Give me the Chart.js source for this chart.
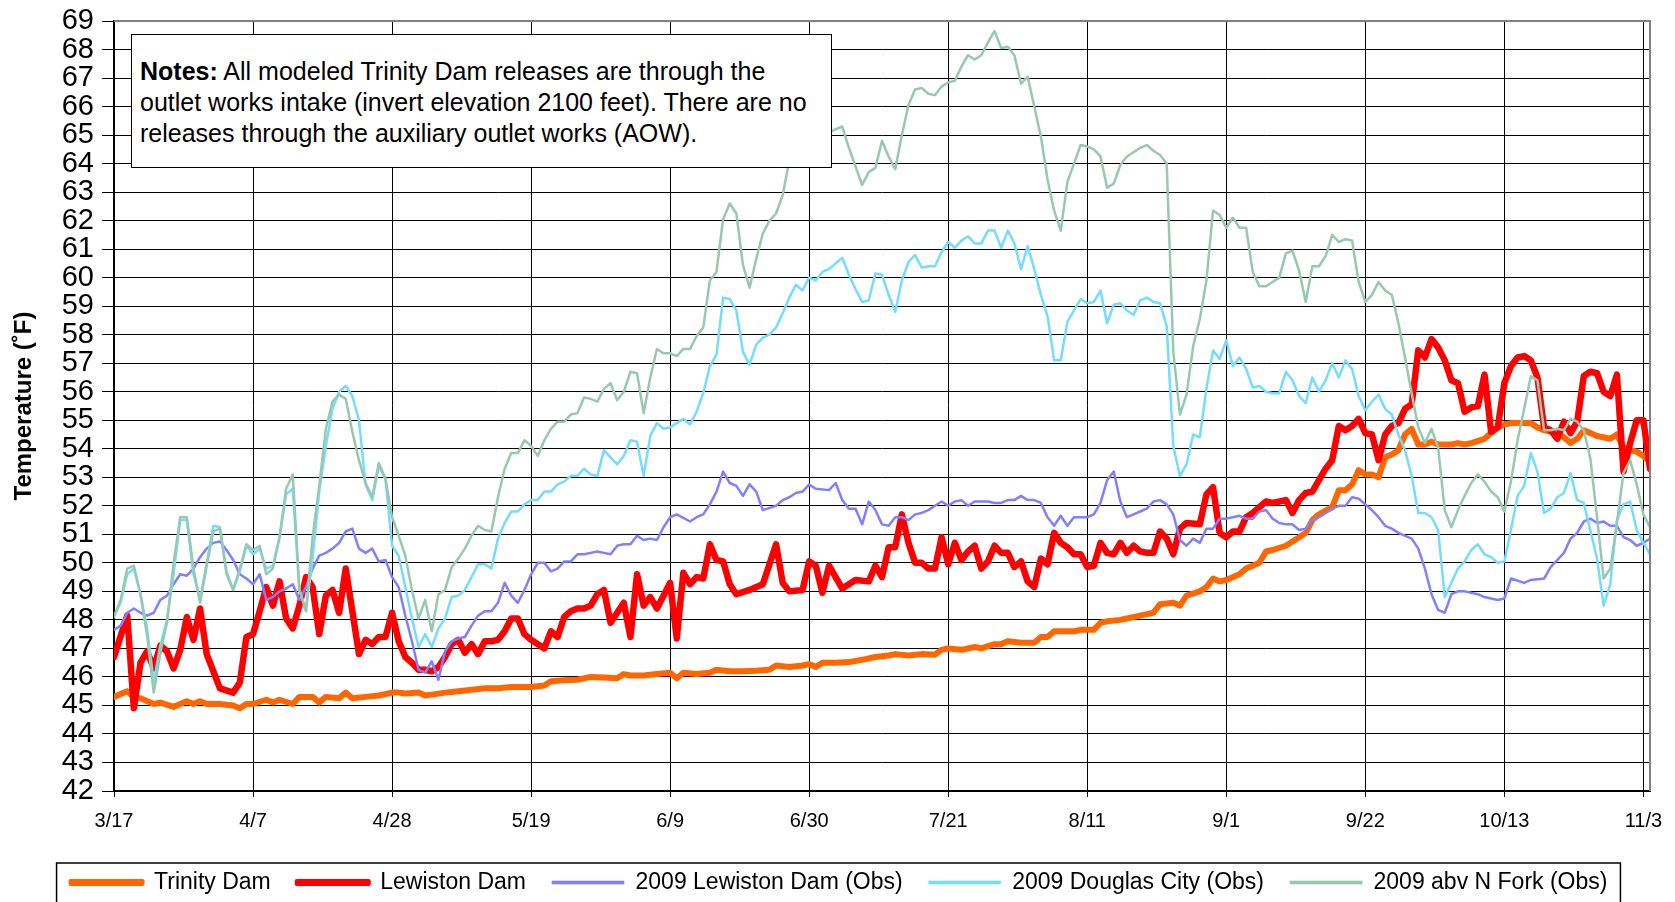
<!DOCTYPE html>
<html>
<head>
<meta charset="utf-8">
<script src="https://cdn.jsdelivr.net/npm/chart.js@4.4.1/dist/chart.umd.min.js"></script>
<style>
  html, body { margin: 0; padding: 0; background: #fff; }
  #wrap { position: relative; width: 1675px; height: 902px; overflow: hidden; }
  #notes {
    position: absolute; left: 131px; top: 34px; width: 701px; height: 134px;
    box-sizing: border-box; border: 1.5px solid #000; background: #fff;
    padding: 21px 0 0 8px; white-space: nowrap; color: #000;
    font: 25px "Liberation Sans", Arial, sans-serif; line-height: 31px;
  }
</style>
</head>
<body>
<div id="wrap">
  <canvas id="chart" width="1675" height="902"></canvas>
  <div id="notes"><b>Notes:</b> All modeled Trinity Dam releases are through the<br>outlet works intake (invert elevation 2100 feet). There are no<br>releases through the auxiliary outlet works (AOW).</div>
</div>
<script>
// x = days after 3/17
const tickDays = [0, 21, 42, 63, 84, 105, 126, 147, 168, 189, 210, 231];
const tickLabels = ['3/17', '4/7', '4/28', '5/19', '6/9', '6/30', '7/21', '8/11', '9/1', '9/22', '10/13', '11/3'];

const trinityDays = [0,2,3,4,6,7,9,10,11,12,13,14,16,18,19,20,21,23,24,25,27,28,30,31,32,34,35,36,38,40,
  42,43,44,46,47,48,50,52,54,56,58,60,61,63,65,66,68,70,72,74,76,77,78,80,82,84,85,86,88,90,
  91,93,95,97,99,100,102,104,105,106,107,109,111,113,115,117,118,120,122,124,125,126,128,130,131,133,134,135,137,139,
  140,141,142,144,145,146,148,149,150,152,153,155,156,157,158,160,161,162,164,165,166,167,168,170,171,172,173,174,175,177,
  178,179,180,181,182,184,185,186,187,188,189,190,191,192,193,194,195,196,197,198,199,200,202,203,204,205,207,208,209,210,
  211,212,214,215,216,217,218,219,220,221,222,223,224,226,227,228,229,230,231,232];
const trinityTemp = [45.3,45.5,45.3,45.25,45.05,45.1,44.95,45.05,45.15,45.05,45.15,45.05,45.05,45.0,44.9,45.05,45.05,45.2,45.1,45.2,45.05,45.3,45.3,45.1,45.3,45.25,45.45,45.25,45.3,45.35,
  45.45,45.45,45.42,45.45,45.35,45.38,45.45,45.5,45.55,45.6,45.6,45.65,45.65,45.65,45.7,45.85,45.88,45.9,46.0,45.98,45.95,46.1,46.05,46.05,46.1,46.15,45.95,46.15,46.1,46.15,
  46.25,46.2,46.2,46.22,46.25,46.4,46.35,46.4,46.45,46.35,46.5,46.5,46.52,46.6,46.7,46.75,46.8,46.75,46.8,46.78,46.95,47.0,46.95,47.05,47.0,47.15,47.15,47.25,47.2,47.2,
  47.4,47.4,47.6,47.6,47.6,47.65,47.65,47.9,47.95,48.0,48.05,48.15,48.2,48.25,48.55,48.6,48.5,48.85,49.0,49.15,49.45,49.35,49.4,49.6,49.8,49.9,50.0,50.4,50.45,50.6,
  50.75,50.9,51.05,51.5,51.7,51.95,52.55,52.55,52.75,53.25,53.1,53.1,53.0,53.7,53.8,53.95,54.5,54.7,54.15,54.15,54.25,54.15,54.15,54.2,54.15,54.2,54.35,54.55,54.75,54.85,
  54.9,54.9,54.9,54.75,54.65,54.6,54.55,54.4,54.2,54.35,54.65,54.55,54.45,54.35,54.5,54.05,53.95,53.9,53.75,53.55];

const lewistonDays = [0,2,3,4,5,6,7,8,9,10,11,12,13,14,15,16,18,19,20,21,22,23,24,25,26,27,28,29,30,31,
  32,33,34,35,36,37,38,39,40,41,42,43,44,45,46,47,48,49,50,51,52,53,54,55,56,57,58,59,60,61,
  62,63,64,65,66,67,68,69,70,71,72,73,74,75,76,77,78,79,80,81,82,83,84,85,86,87,88,89,90,91,
  92,93,94,96,98,100,101,102,104,105,106,107,108,109,110,112,114,115,116,117,118,119,120,121,122,123,124,125,126,127,
  128,129,130,131,132,133,134,135,136,137,138,139,140,141,142,143,144,145,146,147,148,149,150,151,152,153,154,155,156,157,
  158,159,160,161,162,164,165,166,167,168,169,170,171,172,174,175,177,178,179,180,181,182,183,184,185,186,187,188,189,190,
  191,192,193,194,195,196,197,198,199,200,201,202,203,204,205,206,207,208,209,210,211,212,213,214,215,216,217,218,219,220,
  221,222,223,224,225,226,227,228,229,230,231,232];
const lewistonTemp = [46.7,48.15,44.9,46.5,46.9,46.3,47.1,46.9,46.3,46.95,48.1,47.3,48.4,46.8,46.2,45.6,45.45,45.8,47.4,47.5,48.3,49.15,48.5,49.35,48.05,47.7,48.5,49.5,49.15,47.5,
  48.85,49.05,48.25,49.8,48.3,46.8,47.3,47.15,47.4,47.4,48.25,47.25,46.7,46.5,46.25,46.25,46.2,46.35,46.7,47.15,47.3,46.85,47.15,46.8,47.25,47.25,47.3,47.6,48.05,48.05,
  47.5,47.3,47.15,47.0,47.6,47.4,48.1,48.3,48.4,48.4,48.5,48.9,49.05,47.9,48.25,48.6,47.4,49.6,48.5,48.8,48.4,48.85,49.3,47.35,49.65,49.25,49.5,49.45,50.65,50.1,
  50.05,49.25,48.9,49.05,49.25,50.65,49.3,49.0,49.05,50.05,49.9,48.95,49.9,49.5,49.1,49.4,49.35,49.9,49.5,50.55,50.55,51.7,50.7,50.0,50.0,49.8,49.8,50.9,49.95,50.7,
  50.1,50.4,50.6,49.8,50.05,50.6,50.35,50.35,49.85,50.05,49.35,49.15,50.15,49.95,51.05,50.7,50.55,50.3,50.3,49.85,49.9,50.7,50.35,50.3,50.7,50.35,50.6,50.4,50.35,50.35,
  51.1,50.85,50.3,51.2,51.4,51.35,52.4,52.65,51.05,50.9,51.1,51.1,51.6,51.75,52.15,52.1,52.2,51.75,52.2,52.45,52.5,52.9,53.3,53.6,54.8,54.65,54.8,55.05,54.55,54.5,
  53.6,54.5,54.8,54.9,55.4,55.55,57.45,57.2,57.85,57.55,57.1,56.4,56.3,55.3,55.45,55.5,56.6,54.6,54.75,56.3,56.9,57.2,57.25,57.1,56.5,54.75,54.65,54.35,54.95,54.55,
  54.95,56.55,56.7,56.65,56.0,55.85,56.6,53.2,54.2,55.0,55.0,53.3];

const lewObsDays = [0,1,2,3,4,5,6,7,8,9,10,11,12,13,14,15,16,17,18,19,20,21,22,23,24,25,26,27,28,29,
  30,31,32,33,34,35,36,37,38,39,40,41,42,43,44,45,46,47,48,49,50,51,52,53,54,55,56,57,58,59,
  60,61,62,63,64,65,66,67,68,69,70,71,72,73,74,75,76,77,78,79,80,81,82,83,84,85,87,88,89,90,
  91,92,93,94,95,96,97,98,100,101,102,103,104,105,106,108,109,110,111,112,113,114,115,116,117,118,119,120,121,122,
  123,124,125,126,127,128,129,130,131,132,133,134,135,136,137,138,139,140,141,142,143,144,145,146,147,148,149,150,151,152,
  153,154,155,156,157,158,159,160,161,162,163,164,165,166,167,168,169,170,171,172,173,174,175,176,177,178,179,180,181,182,
  183,184,185,186,187,188,189,190,191,192,193,194,196,197,198,199,200,201,202,203,204,206,207,209,210,211,213,214,216,217,
  218,219,220,221,222,223,224,225,226,227,228,229,230,231,232];
const lewObsTemp = [47.65,47.8,48.25,48.4,48.25,48.15,48.25,48.7,48.85,49.25,49.6,49.55,49.8,50.2,50.5,50.7,50.75,50.45,50.1,49.6,49.45,49.25,49.6,48.7,48.8,49.0,49.1,49.25,48.7,49.15,
  49.8,50.25,50.35,50.5,50.7,51.1,51.2,50.5,50.35,50.5,50.05,50.1,49.5,49.15,48.15,47.25,46.25,46.15,46.55,45.9,46.9,47.25,47.35,47.4,47.8,48.15,48.3,48.3,48.6,49.3,
  48.85,48.6,49.05,49.6,50.0,50.0,49.7,49.8,50.05,50.05,50.3,50.3,50.35,50.4,50.35,50.3,50.6,50.65,50.65,50.95,50.8,50.85,50.8,51.25,51.6,51.7,51.45,51.6,51.7,52.05,
  52.5,53.2,52.8,52.7,52.35,52.75,52.5,51.85,52.0,52.2,52.3,52.45,52.5,52.75,52.6,52.55,52.8,52.2,51.9,51.9,51.35,52.15,51.85,51.35,51.3,51.6,51.6,51.5,51.7,51.75,
  51.85,52.0,52.15,52.0,52.15,52.2,52.0,52.15,52.15,52.15,52.1,52.1,52.2,52.2,52.35,52.2,52.2,52.1,51.6,51.3,51.65,51.3,51.6,51.6,51.6,51.7,52.1,52.9,53.2,52.15,
  51.6,51.7,51.8,51.9,52.15,52.2,52.05,51.7,50.8,50.6,50.85,50.7,51.2,51.2,51.55,51.55,51.6,51.65,51.55,51.55,51.8,51.85,51.55,51.4,51.35,51.35,51.15,51.2,51.5,51.6,
  51.75,51.9,52.0,52.0,52.3,52.25,52.05,51.85,51.6,51.3,51.2,51.05,50.85,50.5,49.8,48.9,48.35,48.25,48.9,49.0,49.0,48.9,48.8,48.7,48.75,49.45,49.3,49.4,49.45,49.85,
  50.1,50.35,50.85,51.05,51.45,51.55,51.4,51.45,51.3,51.3,50.9,50.8,50.6,50.7,50.85];

const douglasDays = [0,1,2,3,4,5,6,7,8,9,10,11,12,13,14,15,16,17,18,19,20,21,22,23,24,25,26,27,28,29,
  30,31,32,33,34,35,36,37,38,39,40,41,42,43,44,45,46,47,48,49,50,51,52,53,54,55,56,57,58,59,
  60,61,62,63,64,65,66,67,68,69,70,71,72,73,74,75,76,77,78,79,80,81,82,83,84,85,86,87,88,89,
  90,91,92,93,94,95,96,97,98,99,100,101,102,103,104,105,106,107,108,109,110,111,112,113,114,115,116,117,118,119,
  120,121,122,123,124,125,126,127,128,129,130,131,132,133,134,135,136,137,138,139,140,141,142,143,144,145,146,147,148,149,
  150,151,152,153,154,155,156,157,158,159,160,161,162,163,164,165,166,167,168,169,170,171,172,173,174,175,176,177,178,179,
  180,181,182,183,184,185,186,187,188,189,190,191,192,193,194,195,196,197,198,199,200,201,202,203,204,205,206,207,208,209,
  210,211,212,213,214,215,216,217,218,219,220,221,222,224,225,226,227,228,229,230,231,232];
const douglasTemp = [48.15,48.6,49.6,49.8,48.9,47.7,45.8,47.1,48.0,49.6,51.5,51.5,49.6,48.7,50.0,51.3,51.25,49.7,49.05,49.7,50.6,50.3,50.5,49.8,49.9,50.9,52.4,52.6,49.05,48.35,
  50.15,52.5,54.1,55.4,56.0,56.2,55.85,55.0,52.75,52.2,53.4,52.95,50.6,50.25,49.15,48.05,47.05,47.5,47.05,47.7,48.05,48.8,48.85,49.05,49.5,49.95,49.95,49.8,50.85,51.4,
  51.8,51.8,52.05,52.2,52.2,52.5,52.5,52.75,52.85,53.05,53.05,53.3,53.1,53.05,53.95,53.7,53.45,53.75,54.3,54.25,53.05,54.45,54.9,54.7,54.75,54.9,55.05,54.85,55.3,55.95,
  56.9,57.3,59.3,59.25,58.85,57.4,56.95,57.65,57.9,58.0,58.25,58.75,59.3,59.75,59.55,60.0,59.9,60.2,60.3,60.5,60.7,60.1,59.6,59.15,59.2,60.15,60.1,59.4,58.8,59.9,
  60.55,60.8,60.35,60.4,60.4,60.9,61.25,61.05,61.3,61.45,61.2,61.2,61.65,61.65,61.05,61.65,61.2,60.3,61.1,60.3,59.4,58.65,57.1,57.1,58.45,58.85,59.25,59.1,59.15,59.55,
  58.4,59.05,59.1,58.85,58.7,59.2,59.3,59.15,59.1,58.3,54.1,53.05,53.45,54.5,54.4,56.1,57.45,57.15,57.8,56.9,57.2,56.8,56.15,56.2,56.0,55.95,55.95,56.7,56.4,55.85,
  55.6,56.5,56.0,56.4,57.0,56.5,57.1,56.8,55.85,55.35,55.65,55.9,55.4,55.2,54.5,53.95,53.05,51.75,51.75,51.6,51.15,48.8,49.3,49.8,50.05,50.45,50.65,50.3,50.2,50.0,
  50.05,51.15,52.35,52.7,53.85,53.2,51.75,51.9,52.3,52.45,53.15,52.2,52.1,50.15,48.5,49.25,51.5,52.05,52.15,51.15,50.7,50.3];

const nForkDays = [0,1,2,3,4,5,6,7,8,9,10,11,12,13,14,15,16,17,18,19,20,21,22,23,24,25,26,27,28,29,
  30,31,32,33,34,35,36,37,38,39,40,41,42,43,44,45,46,47,48,49,50,51,52,53,54,55,56,57,58,59,
  60,61,62,63,64,65,66,67,68,69,70,71,72,73,74,75,76,77,78,79,80,81,82,83,84,85,86,87,88,89,
  90,91,92,93,94,95,96,97,98,99,100,101,102,103,104,105,106,107,108,110,111,112,113,114,115,116,117,118,119,120,
  121,122,123,124,125,126,127,128,129,130,131,132,133,134,135,136,137,138,139,140,141,142,143,144,145,146,147,148,149,150,
  151,152,153,154,155,156,157,158,159,160,161,162,163,164,165,166,167,168,169,170,171,172,173,174,175,176,177,178,179,180,
  181,182,183,184,185,186,187,188,189,190,191,192,193,194,195,196,197,198,199,200,201,202,203,204,205,206,207,208,209,210,
  211,212,213,214,215,216,217,218,219,220,221,222,223,224,225,226,227,228,229,230,231,232];
const nForkTemp = [48.1,48.7,49.8,49.9,48.9,47.45,45.45,46.85,47.9,50.0,51.6,51.6,49.8,48.6,49.9,51.1,51.2,49.6,49.05,49.8,50.65,50.45,50.6,49.6,49.8,50.9,52.6,53.1,49.05,48.3,
  50.9,52.7,54.7,55.65,55.9,55.75,54.6,53.6,52.8,52.3,53.5,52.95,51.6,50.95,50.25,49.05,48.05,48.7,47.6,48.9,49.05,49.85,50.15,50.5,50.95,51.3,51.15,51.1,52.3,53.3,
  53.85,53.85,54.3,54.1,53.75,54.3,54.7,54.95,54.95,55.2,55.25,55.8,55.75,55.65,56.1,56.3,55.7,56.0,56.7,56.65,55.25,56.5,57.5,57.35,57.35,57.25,57.5,57.5,57.95,58.25,
  59.9,60.2,62.05,62.6,62.25,60.45,59.65,60.65,61.55,62.0,62.25,62.9,64.1,64.55,64.9,65.2,65.4,65.1,65.1,65.3,64.55,63.9,63.25,63.7,63.85,64.8,64.25,63.8,65.0,66.05,
  66.6,66.65,66.45,66.4,66.7,66.85,66.9,67.4,67.8,67.65,67.8,68.25,68.65,68.05,68.1,67.8,66.8,67.05,66.0,64.95,63.45,62.35,61.65,63.35,64.0,64.65,64.6,64.5,64.25,63.15,
  63.3,63.95,64.25,64.4,64.55,64.65,64.45,64.3,64.0,57.4,55.2,55.9,57.6,58.55,59.9,62.35,62.2,61.75,62.1,61.75,61.75,60.2,59.7,59.7,59.85,60.0,60.85,60.95,60.25,59.15,
  60.4,60.4,60.75,61.5,61.25,61.35,61.3,59.85,59.15,59.4,59.85,59.55,59.4,58.4,57.2,55.95,54.75,54.2,54.7,54.05,51.85,51.25,51.85,52.35,52.8,53.1,52.85,52.5,52.3,51.8,
  52.85,54.3,55.4,56.55,56.4,54.65,54.65,54.7,54.65,55.05,54.95,54.65,53.65,51.6,49.45,49.8,51.4,53.15,53.6,52.75,51.7,51.25];

const pts = (days, temps) => days.map((d, i) => ({ x: d, y: temps[i] }));
const FONT = '"Liberation Sans", Arial, sans-serif';
Chart.defaults.font.family = FONT;
Chart.defaults.color = '#000';

const LEG_DX = 14, LEG_DY = 2;

// gray right/top edge of the plot, box round the legend, legend nudged like the original
const framePlugin = {
  id: 'frame',
  afterLayout(chart) {
    const lg = chart.legend;
    lg.left += LEG_DX; lg.right += LEG_DX;
    lg.top += LEG_DY; lg.bottom += LEG_DY;
    (lg.legendHitBoxes || []).forEach(h => { h.left += LEG_DX; h.top += LEG_DY; });
  },
  afterDraw(chart) {
    const { ctx, chartArea: a, legend } = chart;
    ctx.save();
    ctx.strokeStyle = '#808080';
    ctx.lineWidth = 2;
    ctx.beginPath();
    ctx.moveTo(a.left, a.top);
    ctx.lineTo(a.right, a.top);
    ctx.lineTo(a.right, a.bottom);
    ctx.stroke();
    const hb = legend.legendHitBoxes;
    if (hb && hb.length) {
      const l = Math.min(...hb.map(h => h.left)) - 14;
      const r = Math.max(...hb.map(h => h.left + h.width)) + 13;
      const t = hb[0].top - 10;
      ctx.strokeStyle = '#000';
      ctx.lineWidth = 1.5;
      ctx.strokeRect(l, t, r - l, 200);
    }
    ctx.restore();
  }
};

const series = [
  { label: 'Trinity Dam', color: '#FF6600', width: 6, order: 5, data: pts(trinityDays, trinityTemp) },
  { label: 'Lewiston Dam', color: '#FF0000', width: 6.5, order: 4, data: pts(lewistonDays, lewistonTemp) },
  { label: '2009 Lewiston Dam (Obs)', color: '#8080FF', width: 2.5, order: 3, data: pts(lewObsDays, lewObsTemp) },
  { label: '2009 Douglas City (Obs)', color: '#74DDFF', width: 2.5, order: 2, data: pts(douglasDays, douglasTemp) },
  { label: '2009 abv N Fork (Obs)', color: '#96C9AF', width: 2.5, order: 1, data: pts(nForkDays, nForkTemp) }
];

new Chart(document.getElementById('chart'), {
  type: 'line',
  data: {
    datasets: series.map(s => ({
      label: s.label, data: s.data, order: s.order,
      borderColor: s.color, backgroundColor: s.color, borderWidth: s.width,
      pointRadius: 0, tension: 0, borderJoinStyle: 'round', borderCapStyle: 'round'
    }))
  },
  options: {
    responsive: false,
    animation: false,
    layout: { padding: { left: 0, right: 25, top: 21, bottom: 0 } },
    scales: {
      x: {
        type: 'linear', min: 0, max: 232,
        afterBuildTicks: (s) => { s.ticks = tickDays.map(v => ({ value: v })); },
        afterFit: (s) => { s.height = 52; },
        ticks: {
          callback: (v) => tickLabels[tickDays.indexOf(v)],
          autoSkip: false, maxRotation: 0, padding: 12,
          font: { size: 20 }, color: '#000'
        },
        grid: { color: '#000', lineWidth: 1, tickLength: 6 },
        border: { color: '#000', width: 2 }
      },
      y: {
        min: 42, max: 69,
        afterFit: (s) => { s.width = 114; s.paddingTop = 0; },
        ticks: { stepSize: 1, autoSkip: false, padding: 8, font: { size: 29 }, color: '#000' },
        grid: { color: '#000', lineWidth: 1, tickLength: 12 },
        border: { color: '#000', width: 2 },
        title: {
          display: true, text: 'Temperature (˚F)', color: '#000',
          font: { size: 24, weight: 'bold' }, padding: { top: 10, bottom: 0 }
        }
      }
    },
    plugins: {
      tooltip: { enabled: false },
      legend: {
        position: 'bottom',
        labels: {
          boxWidth: 72, boxHeight: 3, padding: 26, color: '#000',
          font: { size: 23 },
          sort: (a, b) => a.datasetIndex - b.datasetIndex,
          generateLabels: (chart) =>
            Chart.defaults.plugins.legend.labels.generateLabels(chart).map(it => {
              it.lineWidth = it.datasetIndex < 2 ? 4 : 0.6;
              it.lineCap = 'butt';
              return it;
            })
        }
      }
    }
  },
  plugins: [framePlugin]
});
</script>
</body>
</html>
